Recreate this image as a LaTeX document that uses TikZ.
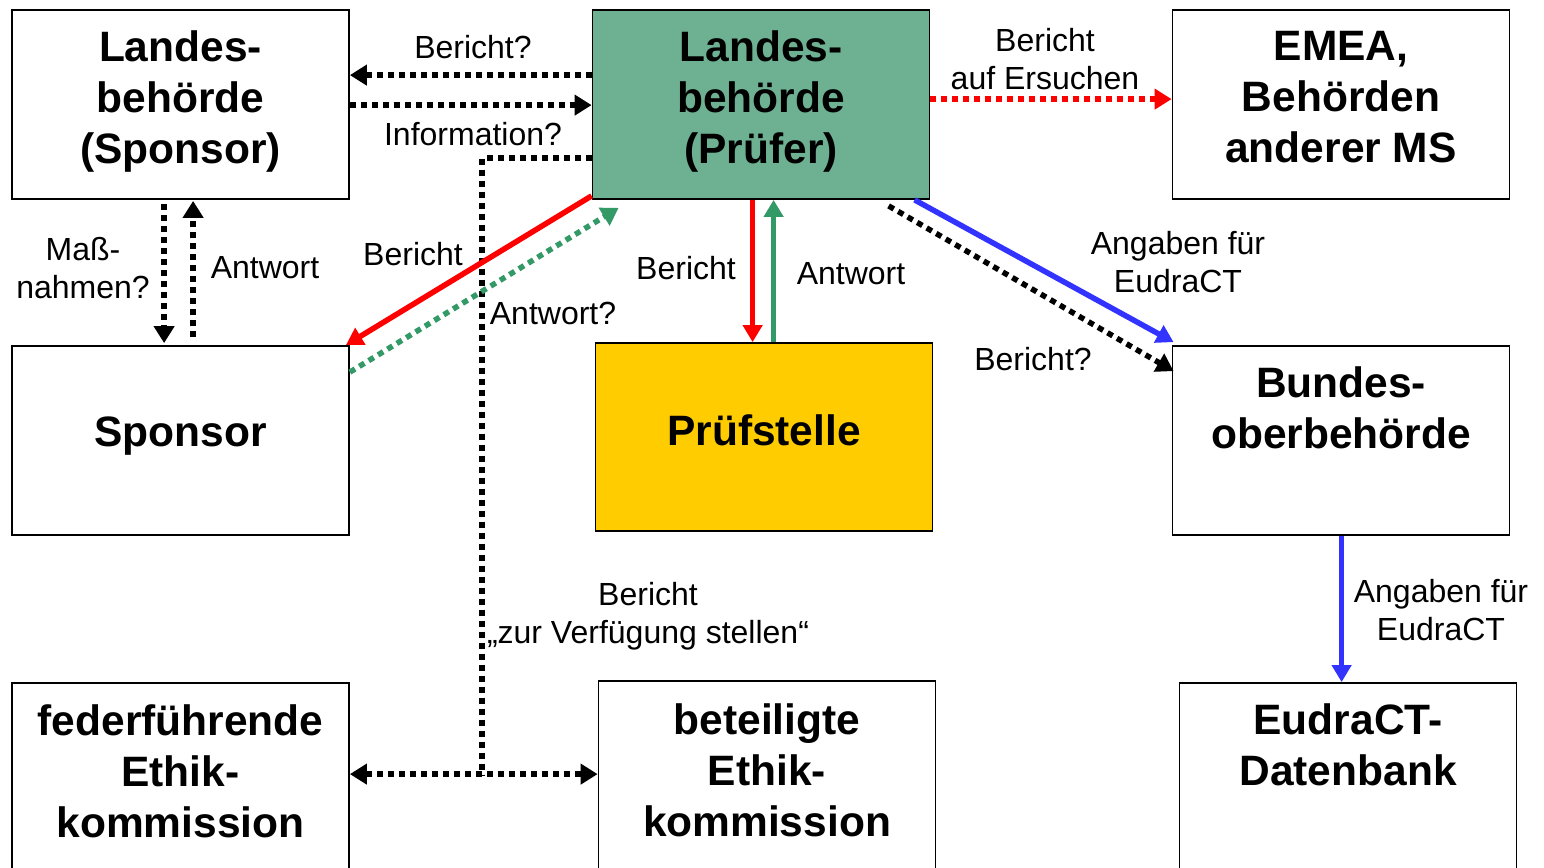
\documentclass[tikz,border=0pt]{standalone}
\usepackage{fontspec}
\setmainfont{Liberation Sans}
\usetikzlibrary{arrows.meta,calc}
\definecolor{lbgreen}{RGB}{109,176,146}
\definecolor{argreen}{RGB}{51,153,102}
\definecolor{pfyellow}{RGB}{255,204,0}
\definecolor{arblue}{RGB}{51,51,255}
\begin{document}
\begin{tikzpicture}[x=1pt,y=-1pt,
  box/.style={draw=black,line width=1.8pt,minimum width=337pt,minimum height=189pt,inner sep=0pt},
  btxt/.style={inner sep=0pt,align=center,font=\fontsize{42.5}{51}\selectfont\bfseries},
  lbl/.style={inner sep=0pt,align=center,font=\fontsize{32}{38}\selectfont},
  tipd/.style={-{Triangle[width=20pt,length=17pt]}},
  dotarrow/.style={line width=5.5pt,dash pattern=on 6pt off 5pt,tipd},
  dotline/.style={line width=5.5pt,dash pattern=on 6pt off 5pt},
  solidarrow/.style={line width=5.5pt,-{Triangle[width=19pt,length=17pt]}}]
\useasboundingbox (0,0) rectangle (1544,867);
% boxes
\node[box] (lbs) at (180.5,104.5) {};
\node[box,fill=lbgreen] (lbp) at (761,104.5) {};
\node[box] (emea) at (1341,104.5) {};
\node[box] (sp) at (180.5,440.5) {};
\node[box,fill=pfyellow,minimum height=188pt] (pf) at (764,437) {};
\node[box] (bo) at (1341,440.5) {};
\node[box,minimum height=192pt] (fed) at (180.5,779) {};
\node[box,minimum height=192pt] (bet) at (767,777) {};
\node[box,minimum height=192pt] (edb) at (1348,779) {};
% box texts
\node[btxt] (lbs-t) at ($(lbs.center)+(0,-3)$) {Landes-\\behörde\\(Sponsor)};
\node[btxt] (lbp-t) at ($(lbp.center)+(0,-3)$) {Landes-\\behörde\\(Prüfer)};
\node[btxt] (emea-t) at ($(emea.center)+(0,-7)$) {EMEA,\\Behörden\\anderer MS};
\node[btxt] (sp-t) at ($(sp.center)+(0,-4)$) {Sponsor};
\node[btxt] (pf-t) at ($(pf.center)+(0,-7)$) {Prüfstelle};
\node[btxt] (bo-t) at ($(bo.center)+(0,-33)$) {Bundes-\\oberbehörde};
\node[btxt] (fed-t) at ($(fed.center)+(0,-8)$) {federführende\\Ethik-\\kommission};
\node[btxt] (bet-t) at ($(bet.center)+(0,-7)$) {beteiligte\\Ethik-\\kommission};
\node[btxt] (edb-t) at ($(edb.center)+(0,-34)$) {EudraCT-\\Datenbank};
% connectors
\draw[dotarrow] ($(lbp.north west)+(0,66)$) -- ($(lbs.north east)+(0,66)$);
\draw[dotarrow] ($(lbs.north east)+(0,96)$) -- ($(lbp.north west)+(0,96)$);
\coordinate (ek) at (482,775);
\draw[dotline] ($(lbp.north west)+(0,149)$) -| (ek);
\draw[dotarrow,{Triangle[width=20pt,length=17pt]}-{Triangle[width=20pt,length=17pt]}] ($(fed.north east)+(0,92)$) -- ($(bet.north west)+(0,94)$);
\draw[dotarrow,red] ($(lbp.north east)+(0,90)$) -- ($(emea.north west)+(0,90)$);
\draw[dotarrow] ($(lbs.south west)+(153,4)$) -- ($(sp.north west)+(153,-2)$);
\draw[dotarrow] ($(sp.north west)+(182,-8)$) -- ($(lbs.south west)+(182,1)$);
\draw[solidarrow,red] ($(lbp.south west)+(0,-4)$) -- ($(sp.north east)+(-4,0)$);
\draw[dotarrow,argreen] ($(sp.north east)+(0,27)$) -- ($(lbp.south west)+(27,8)$);
\draw[solidarrow,red] ($(lbp.south west)+(161,0)$) -- ($(pf.north west)+(158,0)$);
\draw[solidarrow,argreen] ($(pf.north west)+(179,0)$) -- ($(lbp.south west)+(182,0)$);
\draw[solidarrow,arblue] ($(lbp.south west)+(323,0)$) -- ($(bo.north west)+(2,-3)$);
\draw[dotarrow] ($(lbp.south west)+(297,6)$) -- ($(bo.north west)+(2,26)$);
\draw[solidarrow,arblue] ($(bo.south west)+(170,0)$) -- ($(edb.north west)+(163,0)$);
% labels
\node[lbl] (l1) at (473,47) {Bericht?};
\node[lbl] (l2) at (473,134) {Information?};
\node[lbl] (l3) at (1045,59) {Bericht\\auf Ersuchen};
\node[lbl] (l4) at (83,268) {Maß-\\nahmen?};
\node[lbl] (l5) at (265,268) {Antwort};
\node[lbl] (l6) at (413,254) {Bericht};
\node[lbl] (l7) at (553,313) {Antwort?};
\node[lbl] (l8) at (686,268) {Bericht};
\node[lbl] (l9) at (851,274) {Antwort};
\node[lbl] (l10) at (1178,262) {Angaben für\\EudraCT};
\node[lbl] (l11) at (1033,359) {Bericht?};
\node[lbl] (l12) at (648,616) {Bericht\\„zur Verfügung stellen“};
\node[lbl] (l13) at (1441,610) {Angaben für\\EudraCT};
\end{tikzpicture}
\end{document}
